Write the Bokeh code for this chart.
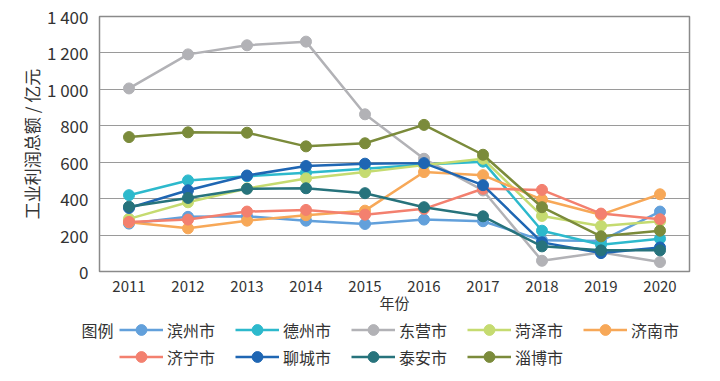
from bokeh.plotting import figure
from bokeh.models import FixedTicker, Legend, ColumnDataSource, Range1d
from bokeh.layouts import column
from bokeh.embed import file_html
from bokeh.resources import INLINE

years = ["2011", "2012", "2013", "2014", "2015", "2016", "2017", "2018", "2019", "2020"]
cities = ["滨州市", "德州市", "东营市", "菏泽市", "济南市", "济宁市", "聊城市", "泰安市", "淄博市"]
binzhou = [263, 300, 303, 279, 261, 285, 276, 171, 168, 329]
dezhou = [419, 500, 523, 542, 564, 588, 603, 224, 147, 180]
dongying = [1005, 1192, 1242, 1262, 863, 619, 445, 59, 105, 52]
heze = [289, 380, 456, 511, 546, 584, 619, 305, 250, 276]
jinan = [270, 237, 279, 309, 334, 546, 529, 395, 312, 424]
jining = [272, 285, 329, 338, 312, 344, 454, 448, 318, 287]
liaocheng = [349, 446, 527, 579, 592, 595, 474, 160, 101, 132]
taian = [356, 404, 454, 457, 430, 353, 303, 138, 116, 116]
zibo = [738, 764, 762, 687, 704, 805, 641, 353, 193, 224]
series = [binzhou, dezhou, dongying, heze, jinan, jining, liaocheng, taian, zibo]
colors = ["#62A0DB", "#2DB9CC", "#B2B2B6", "#C5DB70", "#F7A858", "#F3806F", "#1F66B3", "#27737C", "#7B8B3B"]
yticks = [0, 200, 400, 600, 800, 1000, 1200, 1400]
ytick_labels = ["0", "200", "400", "600", "800", "1 000", "1 200", "1 400"]
legend_title = "图例"

FONT = "Noto Sans CJK SC"
TXT = "#333333"

p = figure(x_range=years, y_range=(0, 1400), width=710, height=316,
           output_backend="svg", toolbar_location=None,
           min_border_left=99, min_border_right=21, min_border_top=16, min_border_bottom=45)
p.x_range.range_padding = 0
p.outline_line_color = "#8a8a8a"
p.outline_line_width = 1.5
p.xgrid.grid_line_color = None
p.ygrid.grid_line_color = "#9a9a9a"
p.ygrid.grid_line_width = 1.2

p.yaxis.ticker = FixedTicker(ticks=yticks)
p.yaxis.major_label_overrides = {t: l for t, l in zip(yticks, ytick_labels)}
for ax in (p.xaxis, p.yaxis):
    ax.axis_line_color = None
    ax.major_tick_line_color = None
    ax.minor_tick_line_color = None
    ax.major_label_text_font = FONT
    ax.major_label_text_color = TXT
    ax.axis_label_text_font = FONT
    ax.axis_label_text_color = TXT
    ax.axis_label_text_font_style = "normal"
p.yaxis.major_label_text_font_size = "17px"
p.yaxis.major_label_standoff = 5
p.yaxis.axis_label = "工业利润总额 / 亿元"
p.yaxis.axis_label_text_font_size = "17px"
p.yaxis.axis_label_standoff = 0
p.xaxis.major_label_text_font_size = "15px"
p.xaxis.major_label_standoff = 3
p.xaxis.axis_label = "年份"
p.xaxis.axis_label_text_font_size = "15px"
p.xaxis.axis_label_standoff = -3

# legend strip: shares the x factors, y window lies below all data so the
# helper renderers stay out of view and only feed the legend
lg = figure(width=710, height=60, x_range=p.x_range, y_range=Range1d(-60, 0),
            output_backend="svg", toolbar_location=None,
            min_border_left=99, min_border_right=21, min_border_top=0, min_border_bottom=0)
lg.xaxis.visible = False
lg.grid.visible = False
lg.outline_line_color = None
lg.yaxis.ticker = FixedTicker(ticks=[-13.5])
lg.yaxis.major_label_overrides = {-13.5: legend_title}
lg.yaxis.axis_line_color = None
lg.yaxis.major_tick_line_color = None
lg.yaxis.minor_tick_line_color = None
lg.yaxis.major_label_standoff = -20
lg.yaxis.major_label_text_font = FONT
lg.yaxis.major_label_text_font_size = "16px"
lg.yaxis.major_label_text_color = TXT

items = []
for name, vals, c in zip(cities, series, colors):
    src = ColumnDataSource(dict(x=years, y=vals))
    p.line("x", "y", source=src, line_color=c, line_width=2.5)
    p.scatter("x", "y", source=src, size=11, fill_color=c, line_color=c)
    r1 = lg.line("x", "y", source=src, line_color=c, line_width=2.5)
    r2 = lg.scatter("x", "y", source=src, size=11, fill_color=c, line_color=c)
    items.append((name, [r1, r2]))

legend = Legend(items=items, ncols=5, location=(20, 6), orientation="horizontal",
                glyph_width=44, glyph_height=27, label_width=68, label_standoff=4,
                spacing=0, padding=0, margin=0, border_line_color=None,
                background_fill_alpha=0, label_text_font=FONT, label_text_font_size="16px",
                label_text_color=TXT, label_height=27)
lg.add_layout(legend, "center")

open("out.html", "w").write(file_html(column(p, lg, spacing=0), INLINE))
